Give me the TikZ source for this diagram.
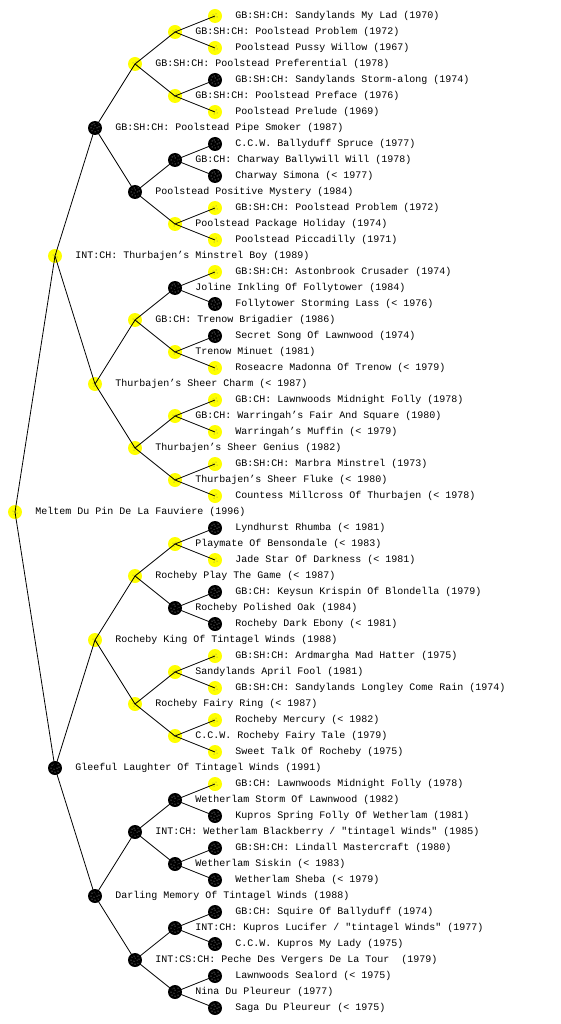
\documentclass[tikz,border=0pt]{standalone}
\usepackage{fontspec}
\setmonofont{Liberation Mono}
\usetikzlibrary{positioning}
\definecolor{pupGold}{HTML}{FFFF00}
\definecolor{pupInk}{HTML}{000000}

% one dog: name, x, y, style, text
\newcommand{\pup}[5]{%
  \node[#4] (#1) at (#2,#3) {};
  \node[pupname, right=13pt of #1] (#1t) {#5};}

\begin{document}
\begin{tikzpicture}[x=1pt, y=-1pt,
    goldpup/.style={circle, fill=pupGold, minimum size=14pt, inner sep=0pt,
      path picture={\foreach \dx/\dy in {-1/-2,2/-1,-2/1,1/2}
        \fill[black!55] ([shift={(\dx pt,\dy pt)}]path picture bounding box.center) circle (0.5pt);}},
    darkpup/.style={circle, fill=pupInk, minimum size=14pt, inner sep=0pt,
      path picture={\foreach \dx/\dy in {-3/-3,0/-4,3/-3,-4/0,-1/-1,2/0,4/1,-3/3,0/2,3/4,-1/4}
        \fill[white!80!black] ([shift={(\dx pt,\dy pt)}]path picture bounding box.center) circle (0.5pt);}},
    pupname/.style={font=\ttfamily\fontsize{10}{12}\selectfont, inner sep=0pt, anchor=west},
    lineage/.style={line width=0.8pt}]
  \useasboundingbox[fill=white] (0,0) rectangle (560,1024);

  % generation 0 and 1
  \pup{r}{15}{512}{goldpup}{Meltem Du Pin De La Fauviere (1996)}
  \pup{ra}{55}{256}{goldpup}{INT:CH: Thurbajen’s Minstrel Boy (1989)}
  \pup{rb}{55}{768}{darkpup}{Gleeful Laughter Of Tintagel Winds (1991)}

  % generation 2
  \pup{raa}{95}{128}{darkpup}{GB:SH:CH: Poolstead Pipe Smoker (1987)}
  \pup{rab}{95}{384}{goldpup}{Thurbajen’s Sheer Charm (< 1987)}
  \pup{rba}{95}{640}{goldpup}{Rocheby King Of Tintagel Winds (1988)}
  \pup{rbb}{95}{896}{darkpup}{Darling Memory Of Tintagel Winds (1988)}

  % generation 3
  \pup{raaa}{135}{64}{goldpup}{GB:SH:CH: Poolstead Preferential (1978)}
  \pup{raab}{135}{192}{darkpup}{Poolstead Positive Mystery (1984)}
  \pup{raba}{135}{320}{goldpup}{GB:CH: Trenow Brigadier (1986)}
  \pup{rabb}{135}{448}{goldpup}{Thurbajen’s Sheer Genius (1982)}
  \pup{rbaa}{135}{576}{goldpup}{Rocheby Play The Game (< 1987)}
  \pup{rbab}{135}{704}{goldpup}{Rocheby Fairy Ring (< 1987)}
  \pup{rbba}{135}{832}{darkpup}{INT:CH: Wetherlam Blackberry / "tintagel Winds" (1985)}
  \pup{rbbb}{135}{960}{darkpup}{INT:CS:CH: Peche Des Vergers De La Tour~ (1979)}

  % generation 4
  \pup{raaaa}{175}{32}{goldpup}{GB:SH:CH: Poolstead Problem (1972)}
  \pup{raaab}{175}{96}{goldpup}{GB:SH:CH: Poolstead Preface (1976)}
  \pup{raaba}{175}{160}{darkpup}{GB:CH: Charway Ballywill Will (1978)}
  \pup{raabb}{175}{224}{goldpup}{Poolstead Package Holiday (1974)}
  \pup{rabaa}{175}{288}{darkpup}{Joline Inkling Of Follytower (1984)}
  \pup{rabab}{175}{352}{goldpup}{Trenow Minuet (1981)}
  \pup{rabba}{175}{416}{goldpup}{GB:CH: Warringah’s Fair And Square (1980)}
  \pup{rabbb}{175}{480}{goldpup}{Thurbajen’s Sheer Fluke (< 1980)}
  \pup{rbaaa}{175}{544}{goldpup}{Playmate Of Bensondale (< 1983)}
  \pup{rbaab}{175}{608}{darkpup}{Rocheby Polished Oak (1984)}
  \pup{rbaba}{175}{672}{goldpup}{Sandylands April Fool (1981)}
  \pup{rbabb}{175}{736}{goldpup}{C.C.W. Rocheby Fairy Tale (1979)}
  \pup{rbbaa}{175}{800}{darkpup}{Wetherlam Storm Of Lawnwood (1982)}
  \pup{rbbab}{175}{864}{darkpup}{Wetherlam Siskin (< 1983)}
  \pup{rbbba}{175}{928}{darkpup}{INT:CH: Kupros Lucifer / "tintagel Winds" (1977)}
  \pup{rbbbb}{175}{992}{darkpup}{Nina Du Pleureur (1977)}

  % generation 5
  \pup{raaaaa}{215}{16}{goldpup}{GB:SH:CH: Sandylands My Lad (1970)}
  \pup{raaaab}{215}{48}{goldpup}{Poolstead Pussy Willow (1967)}
  \pup{raaaba}{215}{80}{darkpup}{GB:SH:CH: Sandylands Storm-along (1974)}
  \pup{raaabb}{215}{112}{goldpup}{Poolstead Prelude (1969)}
  \pup{raabaa}{215}{144}{darkpup}{C.C.W. Ballyduff Spruce (1977)}
  \pup{raabab}{215}{176}{darkpup}{Charway Simona (< 1977)}
  \pup{raabba}{215}{208}{goldpup}{GB:SH:CH: Poolstead Problem (1972)}
  \pup{raabbb}{215}{240}{goldpup}{Poolstead Piccadilly (1971)}
  \pup{rabaaa}{215}{272}{goldpup}{GB:SH:CH: Astonbrook Crusader (1974)}
  \pup{rabaab}{215}{304}{darkpup}{Follytower Storming Lass (< 1976)}
  \pup{rababa}{215}{336}{darkpup}{Secret Song Of Lawnwood (1974)}
  \pup{rababb}{215}{368}{goldpup}{Roseacre Madonna Of Trenow (< 1979)}
  \pup{rabbaa}{215}{400}{goldpup}{GB:CH: Lawnwoods Midnight Folly (1978)}
  \pup{rabbab}{215}{432}{goldpup}{Warringah’s Muffin (< 1979)}
  \pup{rabbba}{215}{464}{goldpup}{GB:SH:CH: Marbra Minstrel (1973)}
  \pup{rabbbb}{215}{496}{goldpup}{Countess Millcross Of Thurbajen (< 1978)}
  \pup{rbaaaa}{215}{528}{darkpup}{Lyndhurst Rhumba (< 1981)}
  \pup{rbaaab}{215}{560}{goldpup}{Jade Star Of Darkness (< 1981)}
  \pup{rbaaba}{215}{592}{darkpup}{GB:CH: Keysun Krispin Of Blondella (1979)}
  \pup{rbaabb}{215}{624}{darkpup}{Rocheby Dark Ebony (< 1981)}
  \pup{rbabaa}{215}{656}{goldpup}{GB:SH:CH: Ardmargha Mad Hatter (1975)}
  \pup{rbabab}{215}{688}{goldpup}{GB:SH:CH: Sandylands Longley Come Rain (1974)}
  \pup{rbabba}{215}{720}{goldpup}{Rocheby Mercury (< 1982)}
  \pup{rbabbb}{215}{752}{goldpup}{Sweet Talk Of Rocheby (1975)}
  \pup{rbbaaa}{215}{784}{goldpup}{GB:CH: Lawnwoods Midnight Folly (1978)}
  \pup{rbbaab}{215}{816}{darkpup}{Kupros Spring Folly Of Wetherlam (1981)}
  \pup{rbbaba}{215}{848}{darkpup}{GB:SH:CH: Lindall Mastercraft (1980)}
  \pup{rbbabb}{215}{880}{darkpup}{Wetherlam Sheba (< 1979)}
  \pup{rbbbaa}{215}{912}{darkpup}{GB:CH: Squire Of Ballyduff (1974)}
  \pup{rbbbab}{215}{944}{darkpup}{C.C.W. Kupros My Lady (1975)}
  \pup{rbbbba}{215}{976}{darkpup}{Lawnwoods Sealord (< 1975)}
  \pup{rbbbbb}{215}{1008}{darkpup}{Saga Du Pleureur (< 1975)}

  % parent to sire and dam
  \foreach \p in {r, ra, rb, raa, rab, rba, rbb,
      raaa, raab, raba, rabb, rbaa, rbab, rbba, rbbb,
      raaaa, raaab, raaba, raabb, rabaa, rabab, rabba, rabbb,
      rbaaa, rbaab, rbaba, rbabb, rbbaa, rbbab, rbbba, rbbbb}
    \draw[lineage] (\p a.center) -- (\p.center) -- (\p b.center);
\end{tikzpicture}
\end{document}
